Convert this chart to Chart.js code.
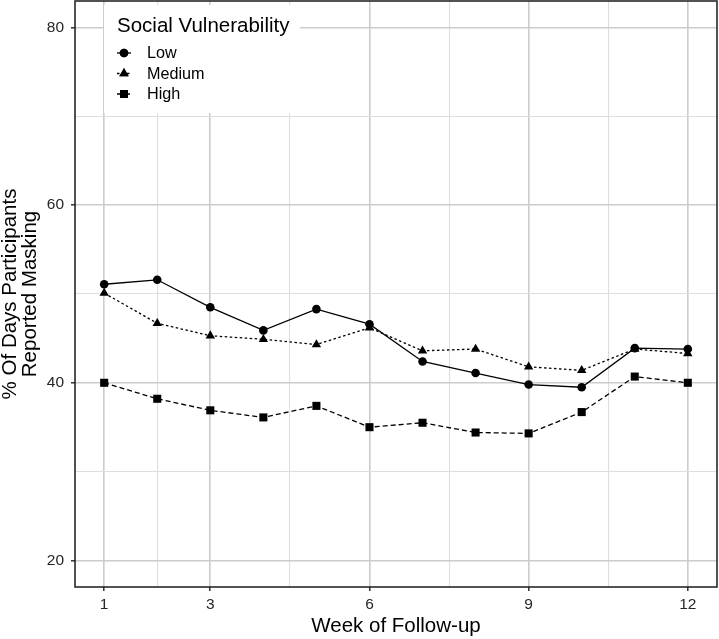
<!DOCTYPE html>
<html>
<head>
<meta charset="utf-8">
<script src="https://cdn.jsdelivr.net/npm/chart.js@4.4.1/dist/chart.umd.min.js"></script>
<style>
html,body{margin:0;padding:0;background:#fff;}
#wrap{width:719px;height:639px;}
</style>
</head>
<body>
<div id="wrap"><canvas id="chart" width="719" height="639"></canvas></div>
<script>
// data
const weeks = [1,2,3,4,5,6,7,8,9,10,11,12];
const lowVals    = [51.1,51.6,48.5,45.9,48.3,46.6,42.4,41.1,39.8,39.5,43.9,43.8];
const mediumVals = [50.1,46.7,45.3,44.9,44.3,46.2,43.6,43.8,41.8,41.4,43.8,43.3];
const highVals   = [40.0,38.2,36.9,36.1,37.4,35.0,35.5,34.4,34.3,36.7,40.7,40.0];
const seriesNames = ["Low","Medium","High"];
const xMajor = [1,3,6,9,12];
const xMinor = [2,4.5,7.5,10.5];
const yMajor = [20,40,60,80];
const yMinor = [30,50,70];

const FONT = "'Liberation Sans', Arial, Helvetica, sans-serif";
const styles = [
  { dash: [], point: "circle", radius: 4.3 },
  { dash: [2.5,2.5], point: "triangle", radius: 5.4 },
  { dash: [5,3], point: "rect", radius: 5.7 }
];

function pts(vals){ return weeks.map((w,i)=>({ x:w, y:vals[i] })); }
function mkSet(label, vals, st){
  return {
    label, data: pts(vals),
    borderColor:"#000", backgroundColor:"#000", borderWidth:1.3,
    borderDash: st.dash, pointStyle: st.point, pointRadius: st.radius,
    pointBorderWidth:0, pointBackgroundColor:"#000", tension:0, fill:false
  };
}
const isMaj = (arr, c) => c.tick && arr.includes(c.tick.value);

function tickSetter(major, minor){
  return s => { s.ticks = [...major, ...minor].sort((a,b)=>a-b).map(v=>({ value:v })); };
}

// legend inside the panel, top-left, and the black panel border
const panelPlugin = {
  id:"panel",
  afterDraw(chart){
    const { ctx, chartArea:a } = chart;
    ctx.save();
    const lx = a.left + 29, ly = a.top + 4;
    ctx.fillStyle = "#fff";
    ctx.fillRect(lx, ly, 196, 108);
    ctx.fillStyle = "#000";
    ctx.font = "20.5px " + FONT;
    ctx.textBaseline = "alphabetic";
    ctx.fillText("Social Vulnerability", lx + 13, ly + 27);
    ctx.font = "16.2px " + FONT;
    ctx.textBaseline = "middle";
    seriesNames.forEach((n,i)=>{
      const st = styles[i], cy = ly + 48 + i*20.5, cx = lx + 20;
      ctx.strokeStyle = "#000"; ctx.lineWidth = 1.3;
      ctx.setLineDash(st.dash);
      ctx.beginPath(); ctx.moveTo(cx-7, cy); ctx.lineTo(cx+7, cy); ctx.stroke();
      ctx.setLineDash([]);
      Chart.helpers.drawPoint(ctx, { pointStyle: st.point, radius: st.radius, borderWidth: 0 }, cx, cy);
      ctx.fillStyle = "#000";
      ctx.fill();
      ctx.fillText(n, lx + 43, cy + 1);
    });
    ctx.strokeStyle = "#1a1a1a"; ctx.lineWidth = 1.5; ctx.setLineDash([]);
    ctx.strokeRect(a.left, a.top, a.right - a.left, a.bottom - a.top);
    ctx.restore();
  }
};

new Chart(document.getElementById("chart").getContext("2d"), {
  type:"line",
  data:{ datasets: seriesNames.map((n,i)=>mkSet(n, [lowVals,mediumVals,highVals][i], styles[i])) },
  options:{
    responsive:false, animation:false,
    layout:{ autoPadding:false, padding:{ left:0, right:2, top:1, bottom:0 } },
    plugins:{ legend:{ display:false }, tooltip:{ enabled:false } },
    scales:{
      x:{
        type:"linear", min:0.45, max:12.55,
        afterBuildTicks: tickSetter(xMajor, xMinor),
        afterFit: s => { s.height = 52; s.paddingLeft = 0; s.paddingRight = 0; },
        border:{ display:false },
        grid:{
          color: c => isMaj(xMajor,c) ? "#cccccc" : "#dedede",
          lineWidth: c => isMaj(xMajor,c) ? 1.6 : 1.1,
          tickLength:4, tickWidth:1.5,
          tickColor: c => isMaj(xMajor,c) ? "#333" : "rgba(0,0,0,0)"
        },
        ticks:{ autoSkip:false, maxRotation:0, padding:4, color:"#262626",
          font:{ family:FONT, size:15.5 },
          callback: v => xMajor.includes(v) ? String(v) : "" },
        title:{ display:true, text:"Week of Follow-up", color:"#000",
          font:{ family:FONT, size:20.5, lineHeight:1.0 }, padding:{ top:0, bottom:2 } }
      },
      y:{
        type:"linear", min:17, max:83,
        afterBuildTicks: tickSetter(yMajor, yMinor),
        afterFit: s => { s.width = 75; s.paddingTop = 0; s.paddingBottom = 0; },
        border:{ display:false },
        grid:{
          color: c => isMaj(yMajor,c) ? "#cccccc" : "#dedede",
          lineWidth: c => isMaj(yMajor,c) ? 1.6 : 1.1,
          tickLength:4, tickWidth:1.5,
          tickColor: c => isMaj(yMajor,c) ? "#333" : "rgba(0,0,0,0)"
        },
        ticks:{ autoSkip:false, padding:7, color:"#262626",
          font:{ family:FONT, size:15.5 },
          callback: v => yMajor.includes(v) ? String(v) : "" },
        title:{ display:true, text:["% Of Days Participants","Reported Masking"], color:"#000",
          font:{ family:FONT, size:20.5, lineHeight:1.0 }, padding:{ top:0, bottom:0 } }
      }
    }
  },
  plugins:[panelPlugin]
});
</script>
</body>
</html>
